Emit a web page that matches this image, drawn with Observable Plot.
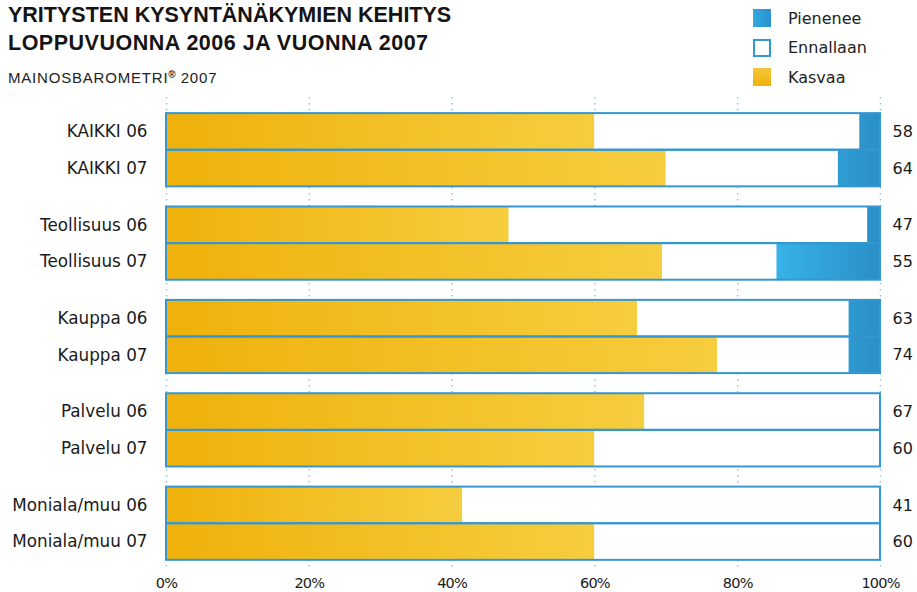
<!DOCTYPE html>
<html><head><meta charset="utf-8">
<script src="https://cdn.jsdelivr.net/npm/d3@7"></script>
<script src="https://cdn.jsdelivr.net/npm/@observablehq/plot@0.6"></script>
<style>
body{margin:0;background:#fff;width:917px;height:592px;overflow:hidden;position:relative;font-family:"DejaVu Sans",sans-serif;color:#111}
#head{height:92px;position:relative}
.t{position:absolute;left:8px;font:bold 21.5px/21px "Liberation Sans",Arial,sans-serif;white-space:nowrap;color:#141414}
.st{position:absolute;left:8px;top:67px;font:15px/15px "Liberation Sans",Arial,sans-serif;letter-spacing:0.8px;white-space:nowrap;color:#222}
.st sup{font-size:10px;font-weight:bold;vertical-align:5px;letter-spacing:0}
.lg{position:absolute;left:753px;height:18px;display:flex;align-items:center;font:16px "DejaVu Sans",sans-serif;color:#222}
.sw{width:18px;height:18px;box-sizing:border-box;margin-right:17px}
</style></head><body>
<div id="head">
  <div class="t" style="top:5px">YRITYSTEN KYSYNTÄNÄKYMIEN KEHITYS</div>
  <div class="t" style="top:33px;letter-spacing:0.5px">LOPPUVUONNA 2006 JA VUONNA 2007</div>
  <div class="st">MAINOSBAROMETRI<sup>®</sup> 2007</div>
  <div id="legend"></div>
</div>
<div id="chart"></div>
<script>
// ---- data ----
const groups = ["KAIKKI", "Teollisuus", "Kauppa", "Palvelu", "Moniala/muu"];
const years = ["06", "07"];
const kasvaa   = [60, 70, 48, 69.5, 66, 77.2, 67, 60, 41.5, 60];   // % share "Kasvaa"
const pienenee = [2.9, 5.9, 1.8, 14.5, 4.4, 4.4, 0, 0, 0, 0];    // % share "Pienenee"
const nets     = [58, 64, 47, 55, 63, 74, 67, 60, 41, 60];        // printed value at right
const xTicks   = [0, 20, 40, 60, 80, 100];
const legendItems = ["Pienenee", "Ennallaan", "Kasvaa"];

const GAP = 0.55;
const BLUE_LINE = "#3597d2";

const rows = [];
groups.forEach((g, gi) => years.forEach((yr, yi) => {
  const i = gi * 2 + yi;
  const k = kasvaa[i], p = pienenee[i], e = 100 - k - p;
  rows.push({label: `${g} ${yr}`, slot: gi * (2 + GAP) + yi, kasvaa: k, ennallaan: e, pienenee: p, net: nets[i]});
}));
const segs = rows.flatMap(r => [
  {...r, cat: "Kasvaa", x1: 0, x2: r.kasvaa},
  {...r, cat: "Ennallaan", x1: r.kasvaa, x2: r.kasvaa + r.ennallaan},
  {...r, cat: "Pienenee", x1: r.kasvaa + r.ennallaan, x2: r.kasvaa + r.ennallaan + r.pienenee}
]).filter(d => d.x2 > d.x1);

const lastSlot = rows[rows.length - 1].slot + 1;

const plot = Plot.plot({
  width: 917, height: 500,
  marginLeft: 166, marginRight: 37, marginTop: 5, marginBottom: 23,
  x: {domain: [0, 100], axis: null},
  y: {domain: [-0.44, lastSlot + 0.25], reverse: true, axis: null},
  style: {fontFamily: "DejaVu Sans, sans-serif", background: "transparent"},
  marks: [
    Plot.ruleX(xTicks, {stroke: "#8ecbef", strokeWidth: 1.6, strokeDasharray: "1.6,4.4"}),
    Plot.rect(segs.filter(d => d.cat === "Kasvaa"), {x1: "x1", x2: "x2", y1: "slot", y2: d => d.slot + 1, fill: "url(#gy)"}),
    Plot.rect(segs.filter(d => d.cat === "Ennallaan"), {x1: "x1", x2: "x2", y1: "slot", y2: d => d.slot + 1, fill: "white"}),
    Plot.rect(segs.filter(d => d.cat === "Pienenee"), {x1: "x1", x2: "x2", y1: "slot", y2: d => d.slot + 1, fill: "url(#gb)"}),
    Plot.rect(rows, {x1: () => 0, x2: d => d.kasvaa + d.ennallaan + d.pienenee, y1: "slot", y2: d => d.slot + 1, fill: "none", stroke: BLUE_LINE, strokeWidth: 2}),
    Plot.text(rows, {y: d => d.slot + 0.5, text: "label", frameAnchor: "left", textAnchor: "end", dx: -19, fontSize: 16.8, fill: "#1a1a1a"}),
    Plot.text(rows, {y: d => d.slot + 0.5, text: d => String(d.net), frameAnchor: "right", textAnchor: "start", dx: 12, fontSize: 16, fill: "#1a1a1a"}),
    Plot.text(xTicks, {x: d => d, text: d => d + "%", frameAnchor: "bottom", lineAnchor: "top", dy: 8, fontSize: 14.5, letterSpacing: "-0.8px", fill: "#1a1a1a", className: "xtick"})
  ]
});

d3.select(plot).selectAll("text").filter(function() { return /%$/.test(this.textContent); })
  .style("font-size", "14.5px").style("letter-spacing", "-0.8px");

const xs = plot.scale("x");
const defs = d3.select(plot).insert("defs", ":first-child");
const gy = defs.append("linearGradient").attr("id", "gy").attr("x1", 0).attr("x2", 1).attr("y1", 0).attr("y2", 0);
gy.append("stop").attr("offset", 0).attr("stop-color", "#efb10a");
gy.append("stop").attr("offset", 1).attr("stop-color", "#f6cd3f");
const gb = defs.append("linearGradient").attr("id", "gb").attr("gradientUnits", "userSpaceOnUse")
  .attr("x1", xs.apply(85)).attr("x2", xs.apply(100)).attr("y1", 0).attr("y2", 0);
gb.append("stop").attr("offset", 0).attr("stop-color", "#38b4e9");
gb.append("stop").attr("offset", 1).attr("stop-color", "#2a8fc6");
document.getElementById("chart").appendChild(plot);

// legend
const sw = {
  Pienenee: "background:linear-gradient(90deg,#33a8e0,#2a93cc)",
  Ennallaan: "background:#fff;border:2px solid " + BLUE_LINE,
  Kasvaa: "background:linear-gradient(180deg,#f5c63a,#f0b20c)"
};
const lg = document.getElementById("legend");
legendItems.forEach((name, i) => {
  const d = document.createElement("div");
  d.className = "lg";
  d.style.top = (9 + i * 29.5) + "px";
  d.innerHTML = `<div class="sw" style="${sw[name]}"></div><span>${name}</span>`;
  lg.appendChild(d);
});
</script>
</body></html>
